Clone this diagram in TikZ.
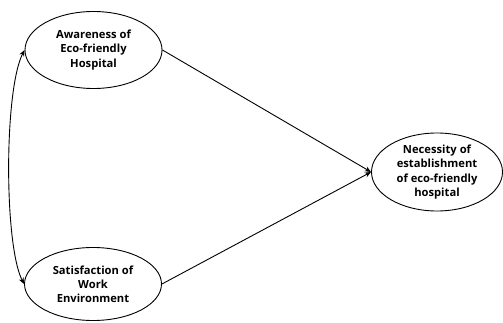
\documentclass[tikz,border=0pt]{standalone}
\usepackage{fontspec}
\setsansfont{Open Sans}
\usetikzlibrary {arrows.meta}
\usetikzlibrary {shapes.geometric}

\tikzset{
    construct/.style = {ellipse, draw, line width=0.9pt, minimum width=137pt, minimum height=77pt,
                        inner sep=0pt, align=center, font=\sffamily\bfseries\fontsize{11.2}{14.2}\selectfont},
    path/.style = {line width=0.9pt, -{Stealth[length=2.2mm, width=1.8mm]}}
}

\begin{document}
\begin{tikzpicture}[x=1pt, y=-1pt, line cap=round]

    \useasboundingbox (0, 0) rectangle (503, 323);

    \node[construct] (aware) at (93.5, 50) {Awareness of\\Eco-friendly\\Hospital};
    \node[construct, minimum height=73pt] (satis) at (93, 284) {Satisfaction of\\Work\\Environment};
    \node[construct, minimum width=131pt, minimum height=78pt] (need) at (437, 172) {Necessity of\\establishment\\of eco-friendly\\hospital};

    \draw[path] (aware.east) -- (need.west);
    \draw[path] (satis.east) -- (need.west);
    \draw[line width=0.9pt, {Stealth[length=2.2mm, width=1.8mm]}-{Stealth[length=2.2mm, width=1.8mm]}]
        (aware.west) .. controls (4, 90) and (4, 245) .. (satis.west);

\end{tikzpicture}
\end{document}
